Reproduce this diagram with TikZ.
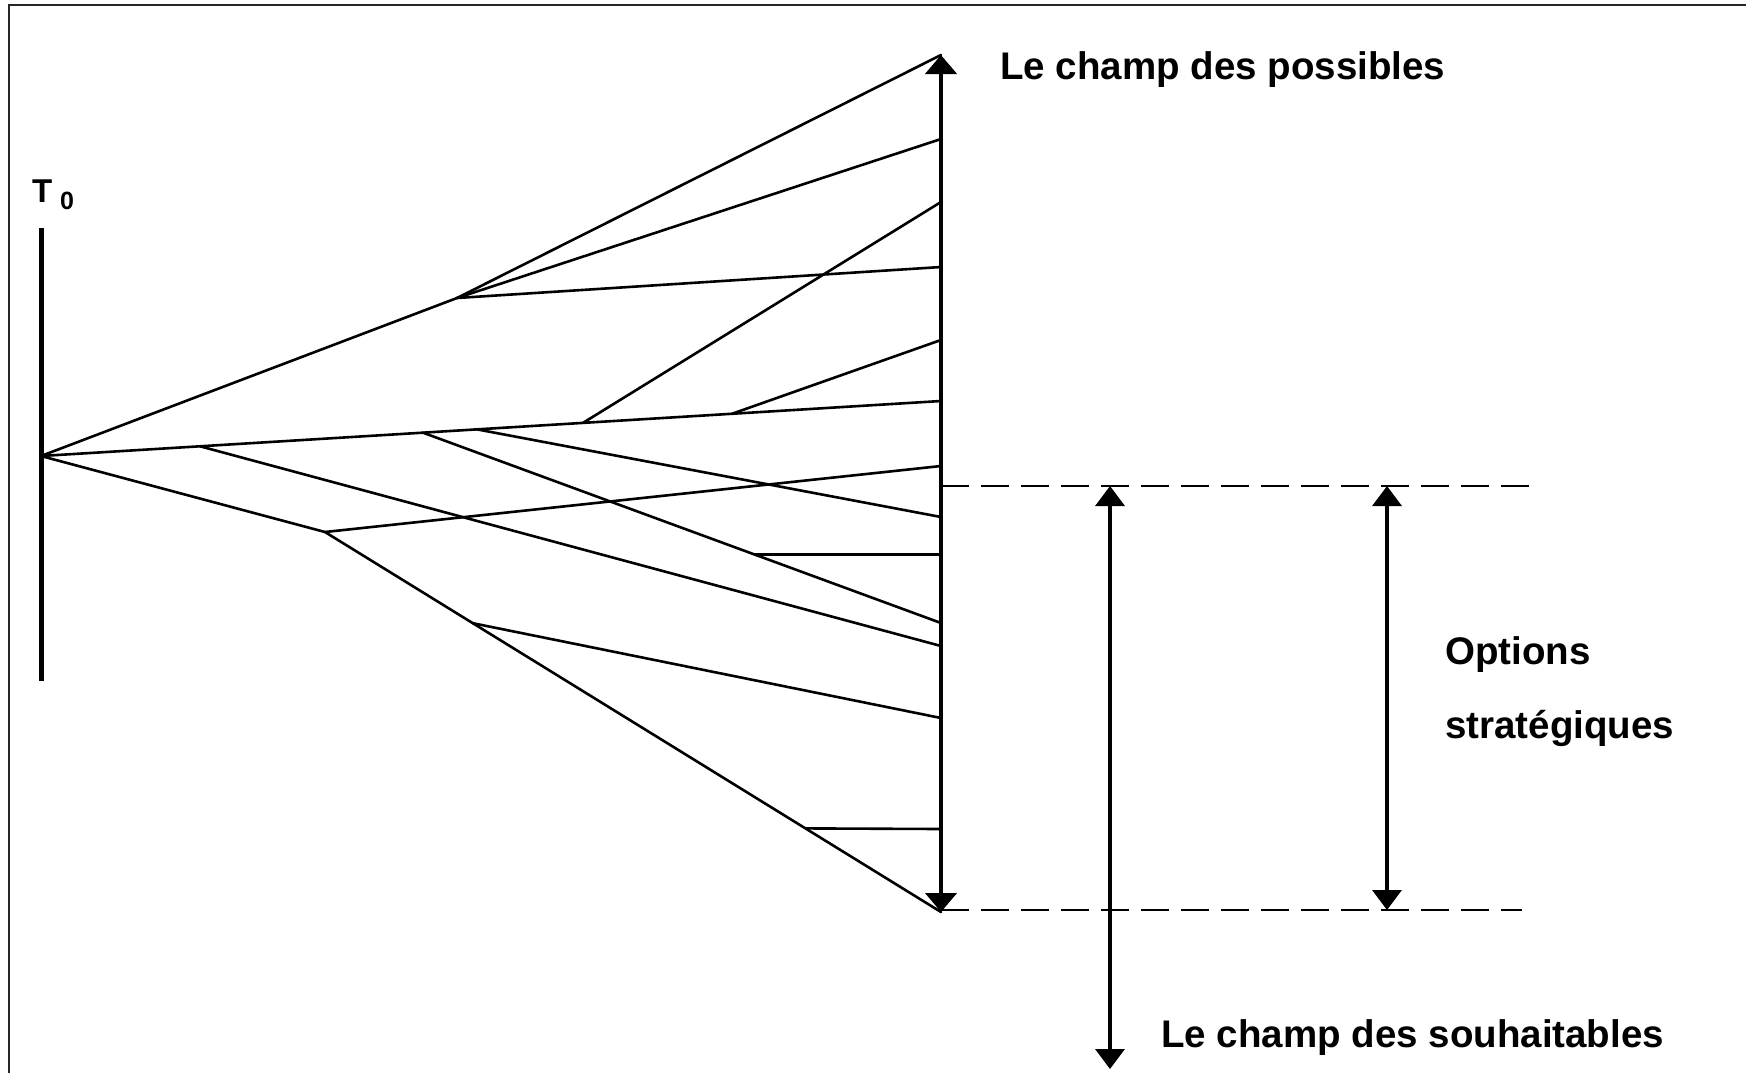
\documentclass[tikz,border=0pt]{standalone}
\usepackage{fontspec}
\setmainfont{Liberation Sans}
\usetikzlibrary{arrows.meta,calc}
\begin{document}
\begin{tikzpicture}[x=1pt,y=-1pt,
  br/.style={line width=2.6pt, line cap=round, line join=round},
  axisline/.style={line width=4.5pt, {Triangle[width=31pt,length=19pt]}-{Triangle[width=31pt,length=19pt]}},
  optarrow/.style={line width=3.6pt, {Triangle[width=29pt,length=20pt]}-{Triangle[width=29pt,length=20pt]}},
  dashline/.style={line width=2pt, dash pattern=on 28pt off 12pt},
  t0line/.style={line width=5pt},
  frameline/.style={line width=2.6pt, draw=black!85},
  lbl/.style={anchor=base west, inner sep=0pt, font=\fontsize{38.5}{46}\selectfont\bfseries}
]
\useasboundingbox (0,0) rectangle (1746,1072);
\fill[white] (0,0) rectangle (1746,1072);
\draw[frameline] (9,5) rectangle (1780,1100);

% main points
\coordinate (O) at (41,456);
\coordinate (Ttop) at (41,228);
\coordinate (Tbot) at (41,681);
\coordinate (A) at (457,298);
\coordinate (C) at (325,532);
\coordinate (axtop) at (941,55);
\coordinate (axbot) at (941,912);
\coordinate (E1) at (941,139);
\coordinate (E2) at (941,202);
\coordinate (E3) at (941,267);
\coordinate (E4) at (941,340);
\coordinate (E5) at (941,401);
\coordinate (E6) at (941,466);
\coordinate (E7) at (941,517);
\coordinate (E9) at (941,623);
\coordinate (E10) at (941,646);
\coordinate (E11) at (941,718);
\coordinate (E12) at (941,829);

% branch points on the middle line
\coordinate (B) at ($(O)!0.1767!(E5)$);
\coordinate (D1) at ($(O)!0.4244!(E5)$);
\coordinate (D2) at ($(O)!0.4844!(E5)$);
\coordinate (D3) at ($(O)!0.6022!(E5)$);
\coordinate (D4) at ($(O)!0.7678!(E5)$);

% T0 line
\draw[t0line] (Ttop) -- (Tbot);

% branches
\draw[br] (O) -- (A) -- (axtop);
\draw[br] (A) -- (E1);
\draw[br] (A) -- (E3);
\draw[br] (O) -- (E5);
\draw[br] (D3) -- (E2);
\draw[br] (D4) -- (E4);
\draw[br] (D2) -- (E7);
\draw[br] (D1) -- (E9);
\coordinate (S) at ($(D1)!0.641!(E9)$);
\draw[br] (S) -- (S -| axbot);
\draw[br] (B) -- (E10);
\draw[br] (O) -- (C);
\draw[br] (C) -- (E6);
\draw[br] (C) -- (axbot);
\coordinate (F1) at ($(C)!0.24!(axbot)$);
\draw[br] (F1) -- (E11);
\coordinate (F2) at ($(C)!0.78!(axbot)$);
\draw[br] (F2) -- (E12);

% axis
\draw[axisline] (axtop) -- (axbot);

% dashed lines
\coordinate (DT1) at (941,486);
\coordinate (DT2) at (1532,486);
\coordinate (DB1) at (941,910);
\coordinate (DB2) at (1522,910);
\draw[dashline] (DT1) -- (DT2);
\draw[dashline] (DB1) -- (DB2);

% option arrows
\coordinate (A2t) at (1110,486);
\coordinate (A2b) at (1110,1069);
\coordinate (A3t) at (1387,486);
\coordinate (A3b) at (1387,910);
\draw[optarrow] (A2t) -- (A2b);
\draw[optarrow] (A3t) -- (A3b);

% labels
\node[anchor=base west, inner sep=0pt, font=\fontsize{33}{38}\selectfont\bfseries] (tz) at (32,202) {T};
\node[anchor=base west, inner sep=0pt, font=\fontsize{25}{30}\selectfont\bfseries] (tzsub) at (60,209) {0};
\node[lbl] (possibles) at (1000,79) {Le champ des possibles};
\node[lbl] (options) at (1445,664) {Options};
\node[lbl] (strat) at (1445,738) {stratégiques};
\node[lbl] (souhait) at (1161,1047) {Le champ des souhaitables};
\end{tikzpicture}
\end{document}
